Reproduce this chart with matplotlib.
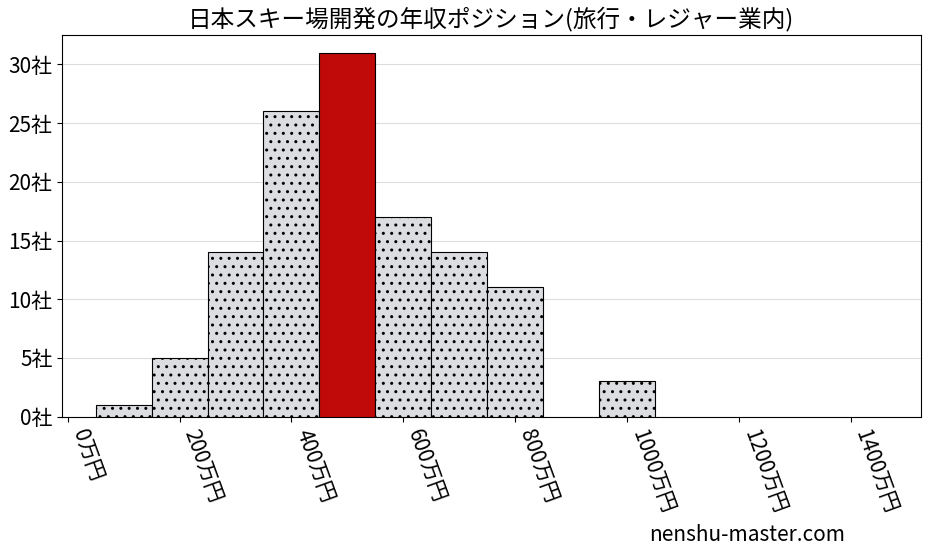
import matplotlib
matplotlib.use("Agg")
import matplotlib.pyplot as plt

plt.rcParams['font.family'] = ['Noto Sans CJK JP', 'DejaVu Sans']

# salary bin centers (万円) and company counts
bin_centers = [100, 200, 300, 400, 500, 600, 700, 800, 900, 1000]
counts = [1, 5, 14, 26, 31, 17, 14, 11, 0, 3]
highlight = 500
x_ticks = [0, 200, 400, 600, 800, 1000, 1200, 1400]
y_ticks = [0, 5, 10, 15, 20, 25, 30]

fig, ax = plt.subplots(figsize=(9.28, 5.57), dpi=100)
fig.subplots_adjust(left=0.067, right=0.992, top=0.937, bottom=0.252)

for c, n in zip(bin_centers, counts):
    if n == 0:
        continue
    red = c == highlight
    ax.bar(c, n, width=100, color='#c00a0a' if red else '#dcdde0',
           edgecolor='black', linewidth=0.8, hatch=None if red else '..',
           zorder=3)
plt.rcParams['hatch.color'] = '#c4c5c8'

ax.set_xlim(-10, 1525)
ax.set_ylim(0, 32.5)
ax.set_xticks(x_ticks)
ax.set_xticklabels([f"{v}万円" for v in x_ticks], rotation=-70,
                   ha='left', va='top', fontsize=15)
ax.set_yticks(y_ticks)
ax.set_yticklabels([f"{v}社" for v in y_ticks], fontsize=15)
ax.yaxis.grid(True, color='#dddddd', linewidth=0.8, zorder=0)
ax.set_title("日本スキー場開発の年収ポジション(旅行・レジャー業内)", fontsize=17)

fig.text(0.7, 0.02, "nenshu-master.com", fontsize=15, ha='left', va='bottom')

fig.savefig("out.png")
